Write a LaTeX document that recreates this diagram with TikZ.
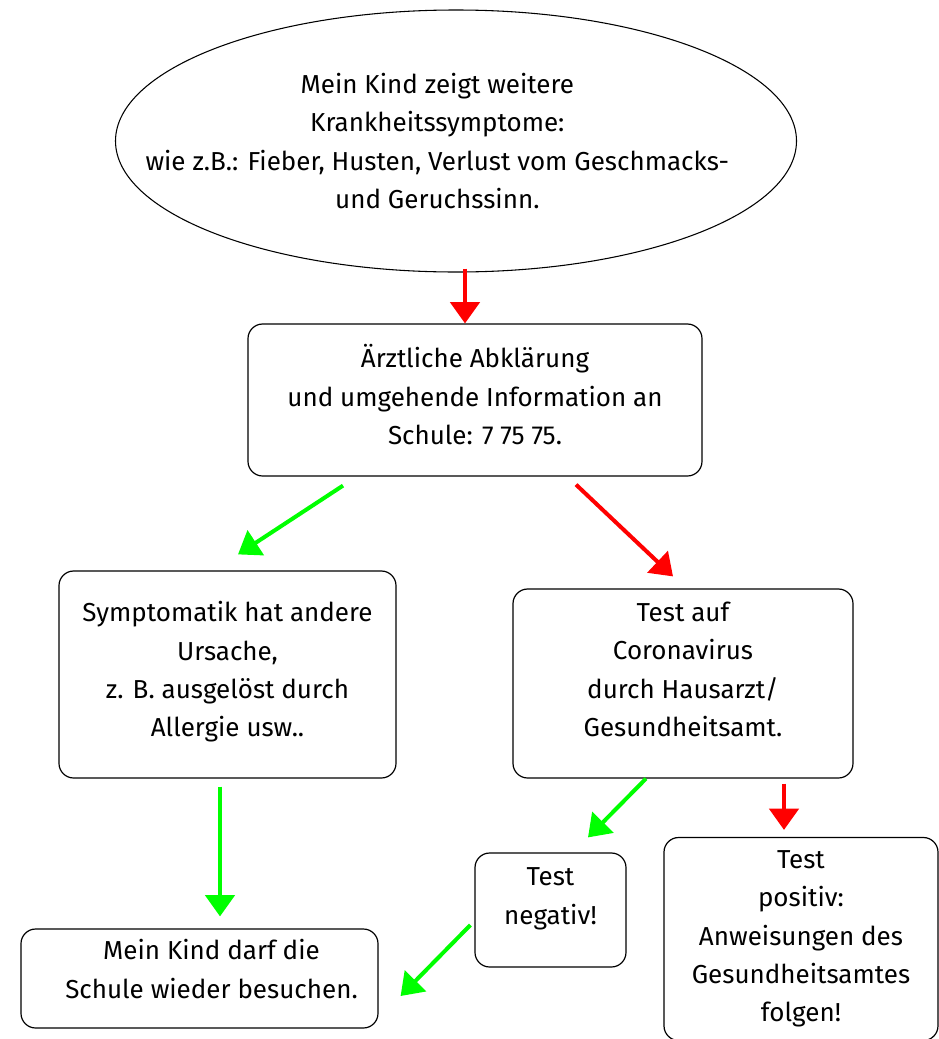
\documentclass[tikz,border=0pt]{standalone}
\usepackage{fontspec}
\setmainfont{Fira Sans}
\usetikzlibrary{shapes,arrows.meta}

\begin{document}
\begin{tikzpicture}[x=0.75pt,y=-0.75pt,>={Triangle[length=16pt,width=22pt]},line width=3pt,font=\fontsize{19.5}{28.75}\selectfont]
\tikzstyle{box}=[draw=black,line width=0.9pt,rounded corners=11pt,inner sep=0pt]
\tikzstyle{txt}=[align=center,inner sep=0pt]
\tikzstyle{rot}=[->,color=red]
\tikzstyle{gruen}=[->,color=green]
\useasboundingbox (0,0) rectangle (939,1039);
\node[ellipse,draw,line width=0.8pt,minimum width=510.75pt,minimum height=196.5pt] (frage) at (456,141) {};
\node[txt] (fragetext) at ([xshift=-14pt]frage.center) {Mein Kind zeigt weitere\\ Krankheitssymptome:\\ wie z.B.: Fieber, Husten, Verlust vom Geschmacks-\\ und Geruchssinn.};
\node[box,minimum width=340.5pt,minimum height=114pt] (arzt) at (475,400) {};
\node[txt] (arzttext) at ([yshift=4pt]arzt.center) {Ärztliche Abklärung\\ und umgehende Information an\\ Schule: 7 75 75.};
\node[box,minimum width=252.75pt,minimum height=155.25pt] (andere) at (227.5,674.5) {};
\node[txt] (anderetext) at ([yshift=2pt]andere.center) {Symptomatik hat andere\\ Ursache,\\ z. B. ausgelöst durch\\ Allergie usw..};
\node[box,minimum width=255pt,minimum height=141.75pt] (test) at (683,683.5) {};
\node[txt] (testtext) at ([yshift=10.5pt]test.center) {Test auf\\ Coronavirus\\ durch Hausarzt/\\ Gesundheitsamt.};
\node[box,minimum width=113.25pt,minimum height=85.5pt] (negativ) at (550.5,910) {};
\node[txt] (negativtext) at ([yshift=8.5pt]negativ.center) {Test\\ negativ!};
\node[box,minimum width=205.5pt,minimum height=152.25pt] (positiv) at (801,939) {};
\node[txt] (positivtext) at (positiv.center) {Test\\ positiv:\\ Anweisungen des\\ Gesundheitsamtes\\ folgen!};
\node[box,minimum width=267.75pt,minimum height=74.25pt] (schule) at (199.5,978.5) {};
\node[txt] (schuletext) at ([shift={(9pt,7pt)}]schule.center) {Mein Kind darf die\\ Schule wieder besuchen.};
\path ([shift={(9,-4)}]frage.south) edge[rot] ([shift={(-10,0)}]arzt.north)
      ([shift={(-132,9)}]arzt.south) edge[gruen] ([shift={(10.5,-16)}]andere.north)
      ([shift={(101,8)}]arzt.south) edge[rot] ([shift={(-10,-12)}]test.north)
      ([shift={(-7.5,8)}]andere.south) edge[gruen] ([shift={(20.5,-12)}]schule.north)
      ([shift={(-37,0)}]test.south) edge[gruen] ([shift={(37.5,-15)}]negativ.north)
      ([shift={(101,5)}]test.south) edge[rot] ([shift={(-17,-7)}]positiv.north)
      ([shift={(-4,15)}]negativ.west) edge[gruen] ([shift={(22,17.5)}]schule.east);
\end{tikzpicture}
\end{document}
